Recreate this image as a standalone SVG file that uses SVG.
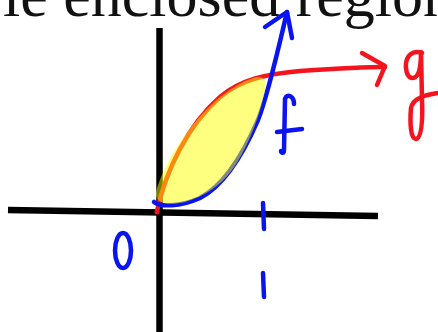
<svg xmlns="http://www.w3.org/2000/svg" width="438" height="332" viewBox="0 0 438 332">
<style>
.ink{fill:none;stroke-linecap:round;stroke-linejoin:round}
.blue{stroke:#0a14f0;stroke-width:4.5}
.red{stroke:#f5141e;stroke-width:4.5}
.axis{stroke:#000;stroke-width:6.5;fill:none}
.title{font-family:"Liberation Serif","Times New Roman",serif;font-size:62px;fill:#111}
</style>
<rect width="438" height="332" fill="#fff"/>
<text class="title" x="3" y="16">le enclosed region</text>
<g id="axes">
<line class="axis" x1="159.5" y1="28" x2="159.5" y2="332"/>
<line class="axis" x1="8" y1="210" x2="378" y2="216"/>
</g>
<g id="connectors">
<path id="g-curve" class="ink red" d="M157,211 C166,170 188,125 220,97 C240,80 265,74 300,71 C330,69 360,67 385,67"/>
<path id="g-arrow" class="ink red" d="M362,53 L385,66 L377,85"/>
<path id="f-curve" class="ink blue" d="M154,202 C160,207 180,207 200,198 C225,185 245,150 258,120 C268,95 278,50 287,12"/>
<path id="f-arrow" class="ink blue" d="M265,27 L287,12 L292,38"/>
<circle cx="157" cy="212" r="2.5" fill="#f5141e"/>
</g>
<g id="region">
<path d="M157,188 C166,160 190,122 220,97 C236,85 250,77 260,77 C267,78 266,86 264,95 C258,122 245,152 232,170 C220,186 205,196 185,202 C172,205 162,204 158,200 C155,196 156,192 157,188 Z" fill="#ffff00" fill-opacity="0.5"/>
</g>
<g id="label-g">
<path class="ink red" d="M422,53 C413,50 405,55 406,68 C407,80 415,80 418,74 C421,68 421,58 421,52 L422,100 C423,125 421,138 416,139 C410,139 410,120 411,108 C413,98 425,95 438,93"/>
</g>
<g id="label-f">
<path class="ink blue" d="M294,104 C294,96 287,93 285,99 L284,150 C284,154 281,153 281,151"/>
<path class="ink blue" d="M277,132 L302,129"/>
</g>
<g id="label-0">
<ellipse class="ink blue" cx="123" cy="250.5" rx="8" ry="17.5"/>
</g>
<g id="tick-1">
<path class="ink blue" d="M263,203 L264,229"/>
</g>
<g id="label-1">
<path class="ink blue" d="M263,273 L264,297"/>
</g>
</svg>
